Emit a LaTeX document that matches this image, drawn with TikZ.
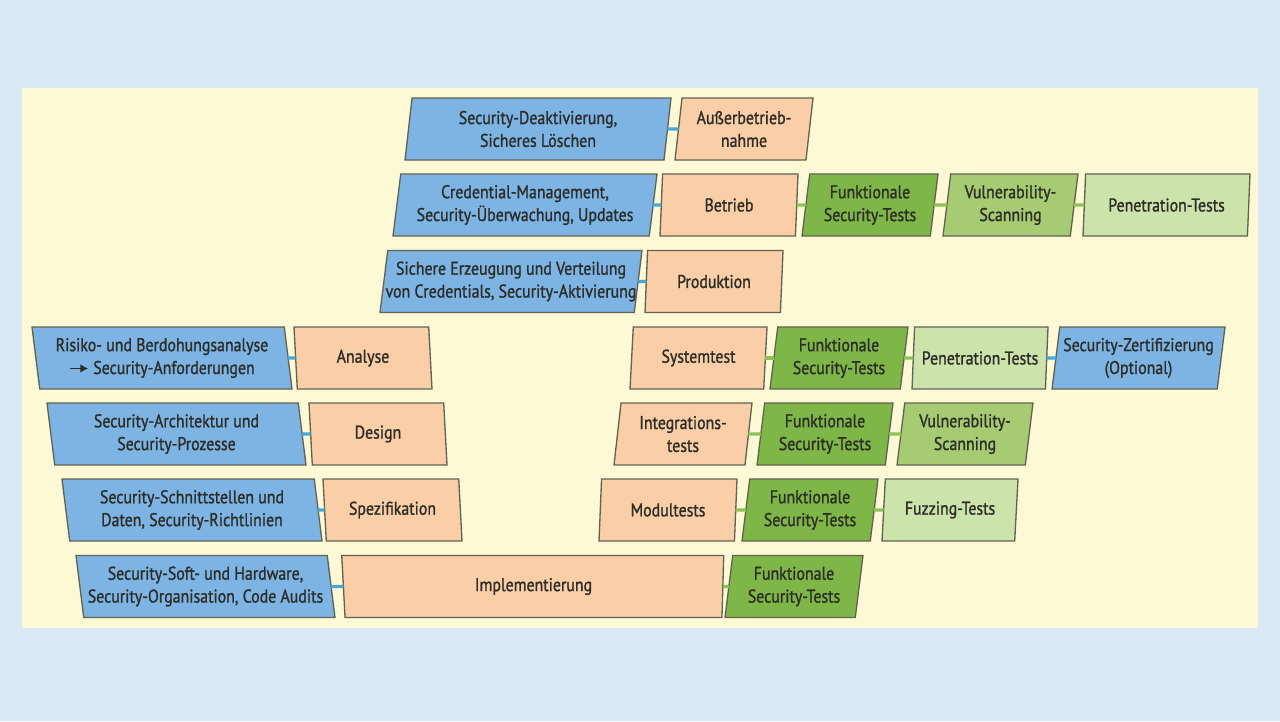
\documentclass[tikz,border=0pt]{standalone}
\usepackage{fontspec}
\setmainfont{PT Sans}[FakeStretch=0.86, FakeBold=1.2]
\usepackage{tikz}
\usetikzlibrary{arrows.meta}
\usetikzlibrary{shapes.geometric}
\tikzset{>=latex}
\usepackage{xcolor}

\definecolor{bgblue}{RGB}{218,233,245}
\definecolor{panel}{RGB}{254,249,213}
\definecolor{secblue}{RGB}{125,180,228}
\definecolor{phase}{RGB}{250,206,167}
\definecolor{testdark}{RGB}{126,182,72}
\definecolor{testmid}{RGB}{166,203,115}
\definecolor{testlight}{RGB}{205,227,172}
\definecolor{rim}{RGB}{98,98,84}
\definecolor{ink}{RGB}{45,45,40}
\definecolor{linkblue}{RGB}{70,168,214}
\definecolor{linkgreen}{RGB}{140,194,86}

\tikzset{
    box/.style={trapezium, trapezium stretches body, draw=rim, line width=0.75pt,
        minimum height=1.24cm, minimum width=#1*0.02cm,
        inner xsep=-4pt, inner ysep=0pt, outer sep=0pt,
        align=center, text=ink, font=\fontsize{10.5}{13}\selectfont},
    fwd/.style={box=#1, trapezium left angle=79, trapezium right angle=101},
    bwd/.style={box=#1, trapezium left angle=101, trapezium right angle=79},
    fwd/.default=137, bwd/.default=138,
    sec/.style={fill=secblue},
    phase/.style={fill=phase},
    tdark/.style={fill=testdark},
    tmid/.style={fill=testmid},
    tlight/.style={fill=testlight},
    bluelink/.style={draw=linkblue, line width=1.8pt},
    greenlink/.style={draw=linkgreen, line width=1.8pt},
}

\begin{document}
\begin{tikzpicture}[x=0.02cm, y=-0.02cm]
    \useasboundingbox (0,0) rectangle (1280,721);
    \fill[bgblue] (0,0) rectangle (1280,721);
    \fill[panel] (22,88) rectangle (1258,628);

    % upper part
    \node[fwd=266, sec] (sdeakt) at (538,129) {Security-Deaktivierung,\\Sicheres Löschen};
    \node[fwd=138, phase] (ausser) at (744,129) {Außerbetrieb-\\nahme};

    \node[fwd=264, sec] (credm) at (525,205) {Credential-Management,\\Security-Überwachung, Updates};
    \node[fwd=138, phase] (betrieb) at (729,205) {Betrieb};
    \node[fwd=136, tdark] (ftbetr) at (870,205) {Funktionale\\Security-Tests};
    \node[fwd=135, tmid] (vsbetr) at (1010.5,205) {Vulnerability-\\Scanning};
    \node[fwd=167, tlight] (ptbetr) at (1166.5,205) {Penetration-Tests};

    \node[fwd=262, sec] (erzeug) at (511,281.5) {Sichere Erzeugung und Verteilung\\von Credentials, Security-Aktivierung};
    \node[fwd=138, phase] (prod) at (714,281.5) {Produktion};

    % left branch
    \node[bwd=260, sec] (risiko) at (162,358) {Risiko- und Berdohungsanalyse\\{\tikz[baseline=-0.6ex, x=1cm, y=1cm]\draw[ink, line width=1pt, -{Latex[length=4.5pt, width=5pt]}] (0,0) -- (0.36,0);} Security-Anforderungen};
    \node[bwd=138, phase] (analyse) at (363,358) {Analyse};

    \node[bwd=259, sec] (archi) at (176.5,434) {Security-Architektur und\\Security-Prozesse};
    \node[bwd=138, phase] (design) at (378,434) {Design};

    \node[bwd=260, sec] (schnitt) at (192,510) {Security-Schnittstellen und\\Daten, Security-Richtlinien};
    \node[bwd=139, phase] (spez) at (392.5,510) {Spezifikation};

    \node[bwd=259, sec] (softhw) at (205.5,586.5) {Security-Soft- und Hardware,\\Security-Organisation, Code Audits};
    \node[box=382, phase, trapezium left angle=101, trapezium right angle=96] (impl) at (533.5,586.5) {Implementierung};
    \node[fwd=138, tdark] (ftimpl) at (794,586.5) {Funktionale\\Security-Tests};

    % right branch
    \node[fwd=137, phase] (systest) at (698.5,358) {Systemtest};
    \node[fwd=138, tdark] (ftsys) at (839,358) {Funktionale\\Security-Tests};
    \node[fwd=136, tlight] (ptsys) at (980,358) {Penetration-Tests};
    \node[fwd=173, sec] (zert) at (1138.5,358) {Security-Zertifizierung\\(Optional)};

    \node[fwd=138, phase] (integ) at (683,434) {Integrations-\\tests};
    \node[fwd=136, tdark] (ftinteg) at (825,434) {Funktionale\\Security-Tests};
    \node[fwd=136, tmid] (vsinteg) at (965,434) {Vulnerability-\\Scanning};

    \node[fwd=138, phase] (modul) at (668,510) {Modultests};
    \node[fwd=136, tdark] (ftmodul) at (810,510) {Funktionale\\Security-Tests};
    \node[fwd=136, tlight] (fuzz) at (950,510) {Fuzzing-Tests};

    % links
    \draw[bluelink] (sdeakt) -- (ausser);
    \draw[bluelink] (credm) -- (betrieb);
    \draw[bluelink] (erzeug) -- (prod);
    \draw[bluelink] (risiko) -- (analyse);
    \draw[bluelink] (archi) -- (design);
    \draw[bluelink] (schnitt) -- (spez);
    \draw[bluelink] (softhw) -- (impl);
    \draw[bluelink] (ptsys) -- (zert);

    \draw[greenlink] (betrieb) -- (ftbetr);
    \draw[greenlink] (ftbetr) -- (vsbetr);
    \draw[greenlink] (vsbetr) -- (ptbetr);
    \draw[greenlink] (systest) -- (ftsys);
    \draw[greenlink] (ftsys) -- (ptsys);
    \draw[greenlink] (integ) -- (ftinteg);
    \draw[greenlink] (ftinteg) -- (vsinteg);
    \draw[greenlink] (modul) -- (ftmodul);
    \draw[greenlink] (ftmodul) -- (fuzz);
    \draw[greenlink] (impl) -- (ftimpl);
\end{tikzpicture}
\end{document}
